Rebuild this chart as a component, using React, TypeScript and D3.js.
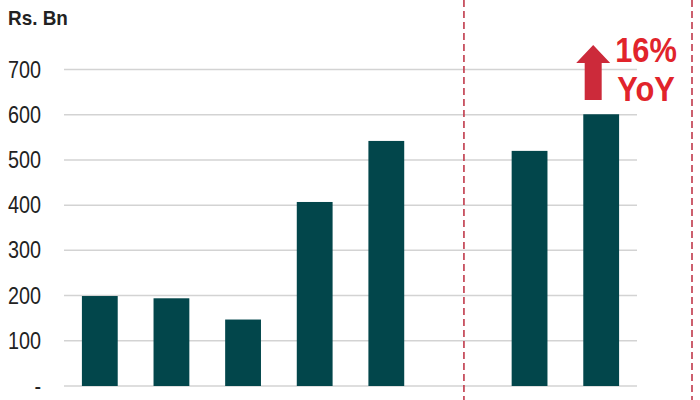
import * as d3 from 'd3'

const categories = ['P1', 'P2', 'P3', 'P4', 'P5', 'gap', 'P6', 'P7']
const values: (number | null)[] = [199, 194, 147, 407, 542, null, 520, 601]
const yTicks = [0, 100, 200, 300, 400, 500, 600, 700]
const tickLabels = ['-', '100', '200', '300', '400', '500', '600', '700']
const unitLabel = 'Rs. Bn'
const growthLines = ['16%', 'YoY']

const W = 700
const H = 400
const FONT = '"Liberation Sans", Arial, sans-serif'

export default function App() {
  const x = d3.scaleBand<string>().domain(categories).range([64, 637]).paddingInner(0.5).paddingOuter(0.25)
  const y = d3.scaleLinear().domain([0, 700]).range([386, 69.5])
  const bw = x.bandwidth()

  const gapCenter = (x('gap') ?? 0) + bw / 2
  const dashes = [gapCenter + 6, 692]

  const last = categories[categories.length - 1]
  const ax = (x(last) ?? 0) + bw / 2 - 8
  const arrowBase = 100
  const arrowTip = 45
  const arrowPath = [
    [ax - 8.5, arrowBase],
    [ax - 8.5, 63],
    [ax - 17, 63],
    [ax, arrowTip],
    [ax + 17, 63],
    [ax + 8.5, 63],
    [ax + 8.5, arrowBase],
  ]
  const line = d3.line()

  return (
    <svg width={W} height={H} style={{ position: 'absolute', left: 0, top: 0 }}>
      <rect width={W} height={H} fill="#fff" />
      <text transform="translate(8,25) scale(0.9,1)" fontFamily={FONT} fontWeight="bold" fontSize={21} fill="#222">
        {unitLabel}
      </text>
      {yTicks.map((t, i) => (
        <g key={t}>
          <line x1={64} x2={637} y1={y(t)} y2={y(t)} stroke="#d3d3d3" strokeWidth={1.5} />
          <text
            transform={`translate(41,${y(t) + 8}) scale(0.86,1)`}
            textAnchor="end"
            fontFamily={FONT}
            fontSize={23}
            fill="#222"
          >
            {tickLabels[i]}
          </text>
        </g>
      ))}
      {categories.map((c, i) =>
        values[i] == null ? null : (
          <rect
            key={c}
            x={x(c)}
            y={y(values[i] as number)}
            width={bw}
            height={y(0) - y(values[i] as number)}
            fill="#02464b"
          />
        )
      )}
      {dashes.map(d => (
        <line key={d} x1={d} x2={d} y1={0} y2={H} stroke="#c0394a" strokeWidth={1.6} strokeDasharray="7 4" />
      ))}
      <path d={line(arrowPath as [number, number][]) + 'Z'} fill="#cc2a3a" />
      {growthLines.map((s, i) => (
        <text
          key={s}
          transform={`translate(646,${62 + i * 39}) scale(0.88,1)`}
          textAnchor="middle"
          fontFamily={FONT}
          fontWeight="bold"
          fontSize={35}
          fill="#e1242b"
        >
          {s}
        </text>
      ))}
    </svg>
  )
}
